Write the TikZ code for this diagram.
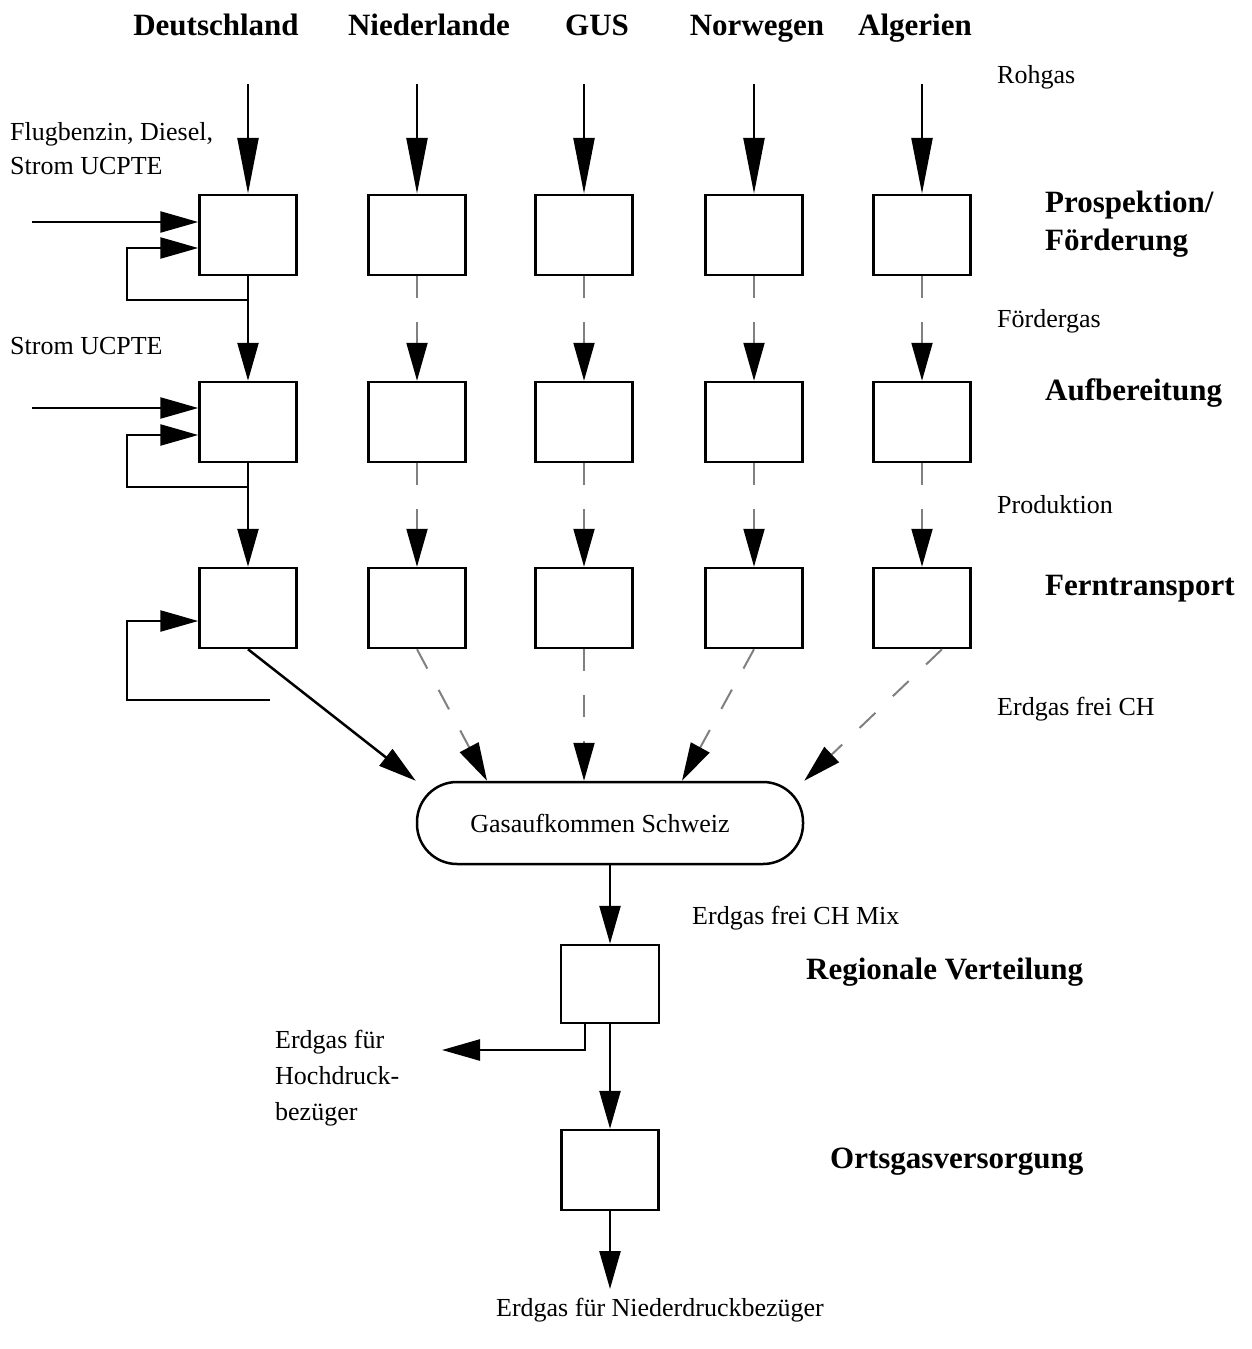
\documentclass[tikz,border=0pt]{standalone}
\usepackage{fontspec}
\setmainfont{Liberation Serif}
\usetikzlibrary{arrows.meta, positioning}
\tikzset{
    stage/.style={rectangle, draw, line width=2.5pt, minimum width=97pt, minimum height=80pt, inner sep=0pt},
    pool/.style={rectangle, draw, rounded corners=40pt, line width=2.5pt, minimum width=386pt, minimum height=82pt, font=\fontsize{26}{32}\selectfont},
    arrow/.style={-{Triangle[length=38pt, width=21pt]}, line width=2.5pt},
    inflow/.style={-{Triangle[length=56pt, width=21pt]}, line width=2.5pt},
    dasharrow/.style={-{Triangle[length=38pt, width=21pt, color=black]}, line width=2pt, draw=gray, dash pattern=on 22pt off 24pt},
    labelstyle/.style={font=\fontsize{26}{35}\selectfont, anchor=base west, inner sep=0pt, align=left},
    stagelabel/.style={font=\fontsize{31}{38}\selectfont\bfseries, anchor=base west, inner sep=0pt, align=left},
    country/.style={font=\fontsize{31}{38}\selectfont\bfseries, anchor=base, inner sep=0pt},
}

\begin{document}
\begin{tikzpicture}[x=1pt, y=-1pt]
    \useasboundingbox (0,0) rectangle (1252,1349);

    % Countries with their three stages
    \foreach \name/\x/\hx/\land in {de/248/216/Deutschland, nl/417/429/Niederlande, gus/584/597/GUS, no/754/757/Norwegen, dz/922/915/Algerien}{
        \node[country] (\name) at (\hx,35) {\land};
        \coordinate (\name0) at (\x,84);
        \node[stage] (\name1) at (\x,235) {};
        \node[stage] (\name2) at (\x,422) {};
        \node[stage] (\name3) at (\x,608) {};
        \draw[inflow] (\name0) -- (\name1);
    }
    \foreach \name in {nl,gus,no,dz}{
        \draw[dasharrow] (\name1) -- (\name2);
        \draw[dasharrow] (\name2) -- (\name3);
    }

    % Deutschland chain with extra inputs and loops
    \draw[arrow] (de1) -- (de2);
    \draw[arrow] (de2) -- (de3);
    \coordinate (in1) at (32,222);
    \coordinate (in2) at (32,408);
    \coordinate (loopend) at (270,700);
    \draw[arrow] (in1) -- (in1 -| de1.west);
    \draw[arrow] (in2) -- (in2 -| de2.west);
    \draw[arrow] (de1.south |- 0,300) -- (127,300) |- (de1.west |- 0,248);
    \draw[arrow] (de2.south |- 0,487) -- (127,487) |- (de2.west |- 0,435);
    \draw[arrow] (loopend) -- (127,700) |- (de3.west |- 0,621);

    % Swiss supply
    \node[pool] (pool) at (610,823) {\hspace*{-20pt}Gasaufkommen Schweiz};
    \draw[arrow] (de3.south) -- (pool.north west);
    \draw[dasharrow] (nl3.south) -- ([xshift=-123pt]pool.north);
    \draw[dasharrow] (gus3) -- (gus3 |- pool.north);
    \draw[dasharrow] (no3.south) -- ([xshift=72pt]pool.north);
    \draw[dasharrow] ([xshift=20pt]dz3.south) -- (pool.north east);

    % Distribution
    \node[stage, minimum width=98pt, minimum height=78pt] (reg) at (610,984) {};
    \node[stage] (ort) at (610,1170) {};
    \coordinate (hoch) at (442,1050);
    \coordinate (nieder) at (610,1289);
    \draw[arrow] (pool.south -| reg) -- (reg);
    \draw[arrow] (reg) -- (ort);
    \draw[arrow] ([xshift=-25pt]reg.south) |- (hoch);
    \draw[arrow] (ort) -- (nieder);

    % Labels (base is the last line)
    \node[labelstyle] (rohgas) at (997,83) {Rohgas};
    \node[labelstyle] (foerdergas) at (997,327) {Fördergas};
    \node[labelstyle] (produktion) at (997,513) {Produktion};
    \node[labelstyle] (frei) at (997,715) {Erdgas frei CH};
    \node[labelstyle] (mix) at (692,924) {Erdgas frei CH Mix};
    \node[labelstyle, font=\fontsize{26}{34}\selectfont] (fuel) at (10,174) {Flugbenzin, Diesel,\\Strom UCPTE};
    \node[labelstyle] (strom) at (10,354) {Strom UCPTE};
    \node[labelstyle, font=\fontsize{26}{36}\selectfont] (hochlabel) at (275,1120) {Erdgas für\\Hochdruck-\\bezüger};
    \node[labelstyle, anchor=base] (niederlabel) at (660,1316) {Erdgas für Niederdruckbezüger};

    \node[stagelabel] (prosp) at (1045,250) {Prospektion/\\Förderung};
    \node[stagelabel] (aufb) at (1045,400) {Aufbereitung};
    \node[stagelabel] (fern) at (1045,595) {Ferntransport};
    \node[stagelabel] (regional) at (806,979) {Regionale Verteilung};
    \node[stagelabel] (orts) at (830,1168) {Ortsgasversorgung};

\end{tikzpicture}
\end{document}
